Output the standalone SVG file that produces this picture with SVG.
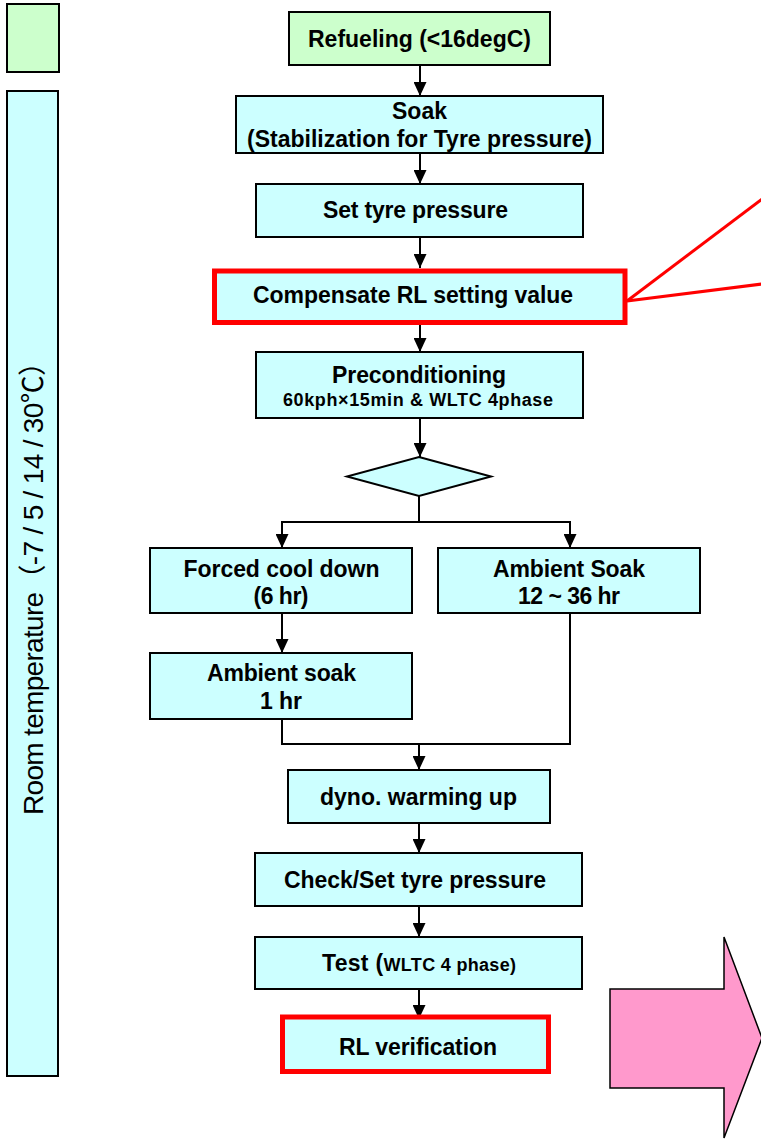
<svg xmlns="http://www.w3.org/2000/svg" width="761" height="1139" viewBox="0 0 761 1139">
<style>
.box{fill:#ccffff;stroke:#000;stroke-width:2}
.green{fill:#ccffcc;stroke:#000;stroke-width:2}
.red{fill:none;stroke:#ff0000;stroke-width:5}
.t{font-family:"Liberation Sans",Arial,"Noto Sans CJK JP",sans-serif;font-weight:bold;font-size:23px;fill:#000;text-anchor:middle}
.s{font-size:18px}
.m{font-size:18px}
.c{fill:none;stroke:#000;stroke-width:2}
</style>
<defs>
<marker id="ah" markerWidth="14" markerHeight="13" refX="14" refY="6.5" orient="auto" markerUnits="userSpaceOnUse">
<path d="M0,0 L14,6.5 L0,13 Z" fill="#000"/>
</marker>
</defs>
<rect width="761" height="1139" fill="#fff"/>
<g id="legend-green"><rect class="green" x="7" y="4" width="52" height="68"/></g>
<g id="room-temp">
<rect class="box" x="7" y="91" width="51" height="985"/>
<text transform="translate(43,581.5) rotate(-90)" font-family="'Liberation Sans',Arial,'Noto Sans CJK JP',sans-serif" font-size="28" text-anchor="middle" textLength="467">Room temperature（-7 / 5 / 14 / 30℃）</text>
</g>
<g id="connectors">
<line class="c" x1="420" y1="65" x2="420" y2="96" marker-end="url(#ah)"/>
<line class="c" x1="420" y1="153" x2="420" y2="184" marker-end="url(#ah)"/>
<line class="c" x1="420" y1="237" x2="420" y2="268" marker-end="url(#ah)"/>
<line class="c" x1="420" y1="325" x2="420" y2="352" marker-end="url(#ah)"/>
<line class="c" x1="420" y1="418" x2="420" y2="457" marker-end="url(#ah)"/>
<polyline class="c" points="419,496 419,522 282,522 282,548" marker-end="url(#ah)"/>
<polyline class="c" points="419,522 570,522 570,548" marker-end="url(#ah)"/>
<line class="c" x1="282" y1="613" x2="282" y2="653" marker-end="url(#ah)"/>
<polyline class="c" points="282,719 282,744 570,744 570,613"/>
<line class="c" x1="419" y1="744" x2="419" y2="770" marker-end="url(#ah)"/>
<line class="c" x1="419" y1="823" x2="419" y2="853" marker-end="url(#ah)"/>
<line class="c" x1="419" y1="906" x2="419" y2="937" marker-end="url(#ah)"/>
<line class="c" x1="419" y1="989" x2="419" y2="1019" marker-end="url(#ah)"/>
<line stroke="#ff0000" stroke-width="3" x1="627" y1="301" x2="762" y2="199"/>
<line stroke="#ff0000" stroke-width="3" x1="627" y1="301" x2="762" y2="284"/>
</g>
<g id="refueling"><rect class="green" x="289" y="12" width="261" height="53"/><text class="t" x="419.5" y="47" textLength="223">Refueling (&lt;16degC)</text></g>
<g id="soak"><rect class="box" x="236" y="96" width="367" height="57"/><text class="t" x="419.5" y="119" textLength="55">Soak</text><text class="t" x="419.5" y="147" textLength="345">(Stabilization for Tyre pressure)</text></g>
<g id="set-tyre"><rect class="box" x="256" y="184" width="327" height="53"/><text class="t" x="415.5" y="218" textLength="185">Set tyre pressure</text></g>
<g id="compensate"><rect class="box" x="214.5" y="271" width="410.5" height="51.5"/><rect class="red" x="214.5" y="271" width="410.5" height="51.5"/><text class="t" x="413" y="303" textLength="320">Compensate RL setting value</text></g>
<g id="precond"><rect class="box" x="256" y="352" width="327" height="66"/><text class="t" x="419" y="383" textLength="174">Preconditioning</text><text class="t s" x="418" y="406" textLength="270">60kph×15min &amp; WLTC 4phase</text></g>
<g id="decision"><polygon class="box" points="419,457 491,476.5 419,496 347,476.5" stroke-width="1.5"/></g>
<g id="forced"><rect class="box" x="150" y="548" width="262" height="65"/><text class="t" x="281.5" y="577" textLength="196">Forced cool down</text><text class="t" x="281" y="604" textLength="55">(6 hr)</text></g>
<g id="ambient-soak"><rect class="box" x="438" y="548" width="262" height="65"/><text class="t" x="569" y="577" textLength="152">Ambient Soak</text><text class="t" x="569" y="604" textLength="102">12 ~ 36 hr</text></g>
<g id="ambient-1hr"><rect class="box" x="150" y="653" width="262" height="66"/><text class="t" x="281.5" y="681" textLength="149">Ambient soak</text><text class="t" x="281" y="709" textLength="42">1 hr</text></g>
<g id="dyno"><rect class="box" x="288" y="770" width="262" height="53"/><text class="t" x="418.5" y="805" textLength="197">dyno. warming up</text></g>
<g id="check-set"><rect class="box" x="255" y="853" width="327" height="53"/><text class="t" x="415" y="888" textLength="262">Check/Set tyre pressure</text></g>
<g id="test"><rect class="box" x="255" y="937" width="327" height="52"/><text class="t" x="419" y="971" textLength="194">Test (<tspan class="m">WLTC 4 phase)</tspan></text></g>
<g id="rl-verification"><rect class="box" x="282.5" y="1017" width="266" height="54.5"/><rect class="red" x="282.5" y="1017" width="266" height="54.5"/><text class="t" x="418" y="1055" textLength="158">RL verification</text></g>
<g id="big-arrow"><polygon points="610,989 724,989 724,937 762,1038 724,1138 724,1088 610,1088" fill="#ff99cc" stroke="#000" stroke-width="1.5"/></g>
</svg>
